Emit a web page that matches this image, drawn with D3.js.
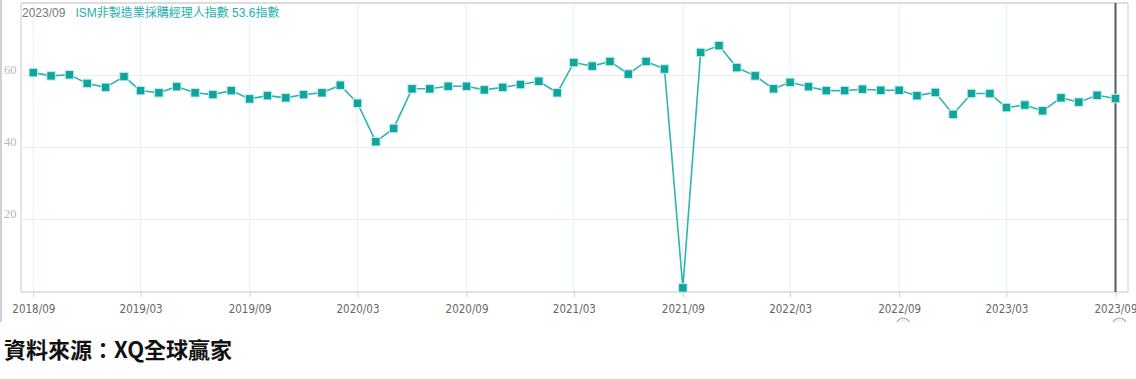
<!DOCTYPE html>
<html>
<head>
<meta charset="utf-8">
<script src="https://cdn.jsdelivr.net/npm/d3@7/dist/d3.min.js"></script>
<style>
  html, body { margin: 0; padding: 0; background: #fff; }
  svg { display: block; }
</style>
</head>
<body>
<svg id="chart" width="1136" height="379"></svg>
<script>
// ---- data ----
const startMonth = "2018-09";
const endMonth = "2023-09";
const ismValues = [
  60.8, 59.9, 60.2, 57.8, 56.7, 59.7, 55.8, 55.2, 56.9, 55.2, 54.7, 55.8,
  53.5, 54.4, 53.8, 54.7, 55.2, 57.3, 52.3, 41.6, 45.3, 56.3, 56.3, 57.0,
  57.0, 56.0, 56.7, 57.5, 58.4, 55.2, 63.6, 62.6, 63.9, 60.4, 63.9, 61.8,
  1.0, 66.4, 68.3, 62.2, 59.9, 56.3, 58.1, 56.9, 55.8, 55.8, 56.2, 55.9,
  55.9, 54.4, 55.3, 49.2, 55.0, 55.0, 51.1, 51.8, 50.2, 53.8, 52.6, 54.5,
  53.6
];
const xTickLabels = ["2018/09","2019/03","2019/09","2020/03","2020/09","2021/03","2021/09","2022/03","2022/09","2023/03","2023/09"];
const yTickValues = [20, 40, 60];
const legendDate = "2023/09";
const seriesName = "ISM非製造業採購經理人指數";
const legendValue = "53.6指數";
const sourceText = "資料來源：XQ全球贏家";

(function () {
const parseM = d3.timeParse("%Y-%m");
const parseTick = d3.timeParse("%Y/%m");
const months = d3.timeMonth.range(parseM(startMonth), d3.timeMonth.offset(parseM(endMonth), 1));
const data = months.map((d, i) => ({ date: d, value: ismValues[i] }));

const svg = d3.select("#chart");
const pLeft = 21, pRight = 1128, pTop = 3, pBottom = 292;

const x = d3.scaleTime()
  .domain([parseM(startMonth), parseM(endMonth)])
  .range([33.3, 1115.5]);
const y = d3.scaleLinear().domain([0, 80]).range([291.5, 3.5]);

svg.append("defs").append("clipPath").attr("id", "bottomClip")
  .append("rect").attr("x", 0).attr("y", 0).attr("width", 1136).attr("height", 322);

// outer left edge line
svg.append("line").attr("x1", 1).attr("x2", 1).attr("y1", 0).attr("y2", 322)
  .attr("stroke", "#d0d0d0").attr("stroke-width", 2);

// vertical gridlines
const tickDates = xTickLabels.map(parseTick);
svg.append("g").selectAll("line").data(tickDates).join("line")
  .attr("x1", d => x(d)).attr("x2", d => x(d))
  .attr("y1", pTop).attr("y2", pBottom)
  .attr("stroke", "#e3f1f8").attr("stroke-width", 1);

// horizontal gridlines
svg.append("g").selectAll("line").data(yTickValues).join("line")
  .attr("x1", pLeft).attr("x2", pRight)
  .attr("y1", d => y(d)).attr("y2", d => y(d))
  .attr("stroke", "#eeeeee").attr("stroke-width", 1.2);

// frame
svg.append("line").attr("x1", pLeft).attr("x2", pRight).attr("y1", pTop).attr("y2", pTop)
  .attr("stroke", "#dddddd").attr("stroke-width", 2);
svg.append("line").attr("x1", pLeft).attr("x2", pLeft).attr("y1", pTop).attr("y2", pBottom)
  .attr("stroke", "#dddddd").attr("stroke-width", 1.5);
svg.append("line").attr("x1", pRight).attr("x2", pRight).attr("y1", pTop).attr("y2", pBottom)
  .attr("stroke", "#dddddd").attr("stroke-width", 1.5);

// x axis
const xAxis = d3.axisBottom(x)
  .tickValues(tickDates)
  .tickFormat(d3.timeFormat("%Y/%m"))
  .tickSize(5).tickSizeOuter(0).tickPadding(6);
const gx = svg.append("g").attr("transform", `translate(0,${pBottom})`).call(xAxis);
gx.select(".domain").remove();
gx.selectAll(".tick line").attr("stroke", "#cccccc");
gx.selectAll(".tick text").attr("fill", "#666").attr("font-size", "11.5px")
  .attr("font-family", "'DejaVu Sans Condensed', 'Liberation Sans', sans-serif")
  .attr("dy", "0.85em");
svg.append("line").attr("x1", pLeft).attr("x2", pRight).attr("y1", pBottom).attr("y2", pBottom)
  .attr("stroke", "#d8d8d8").attr("stroke-width", 1.5);

// y labels
const yAxis = d3.axisLeft(y).tickValues(yTickValues).tickSize(0).tickPadding(0);
const gy = svg.append("g").attr("transform", "translate(4,0)").call(yAxis);
gy.select(".domain").remove();
gy.selectAll(".tick text").attr("text-anchor", "start").attr("x", 0).attr("dy", "-0.15em")
  .attr("fill", "#b8b8b8").attr("font-size", "12.5px")
  .attr("font-family", "'Liberation Serif', 'DejaVu Serif', serif");

// line
const line = d3.line().x(d => x(d.date)).y(d => y(d.value));
svg.append("path").datum(data).attr("d", line)
  .attr("fill", "none").attr("stroke", "#2db6b1").attr("stroke-width", 1.6);

// cursor line at last point
svg.append("line").attr("x1", x(parseM(endMonth))).attr("x2", x(parseM(endMonth)))
  .attr("y1", pTop).attr("y2", pBottom)
  .attr("stroke", "#555b5e").attr("stroke-width", 2);

// markers
const ms = 8.5;
svg.append("g").selectAll("rect").data(data).join("rect")
  .attr("x", d => x(d.date) - ms / 2).attr("y", d => y(d.value) - ms / 2)
  .attr("width", ms).attr("height", ms)
  .attr("fill", "#0ea59f").attr("stroke", "#c6ecea").attr("stroke-width", 1);

// small handle arcs below axis (cut at the chart's bottom edge)
const handles = svg.append("g").attr("clip-path", "url(#bottomClip)");
[parseTick("2022/09"), parseTick("2023/09")].forEach(d => {
  const cx = x(d) + 4, cy = 325;
  handles.append("path")
    .attr("d", `M${cx - 7},${cy} A7,7 0 0 1 ${cx + 7},${cy}`)
    .attr("fill", "#f4f4f4").attr("stroke", "#aaaaaa").attr("stroke-width", 1.2);
});

// legend
const legend = svg.append("text").attr("x", 22).attr("y", 17)
  .attr("font-size", "12px")
  .attr("font-family", "'Liberation Sans', 'Noto Sans CJK TC', sans-serif");
legend.append("tspan").attr("fill", "#7a7a7a").text(legendDate);
legend.append("tspan").attr("dx", 10).attr("fill", "#1fb0ad")
  .text(seriesName + " " + legendValue);

// source text
svg.append("text").attr("x", 4).attr("y", 358)
  .attr("font-size", "22px").attr("font-weight", "bold").attr("fill", "#111")
  .attr("font-family", "'Noto Sans CJK TC', 'Noto Sans', sans-serif")
  .text(sourceText);
})();
</script>
</body>
</html>
